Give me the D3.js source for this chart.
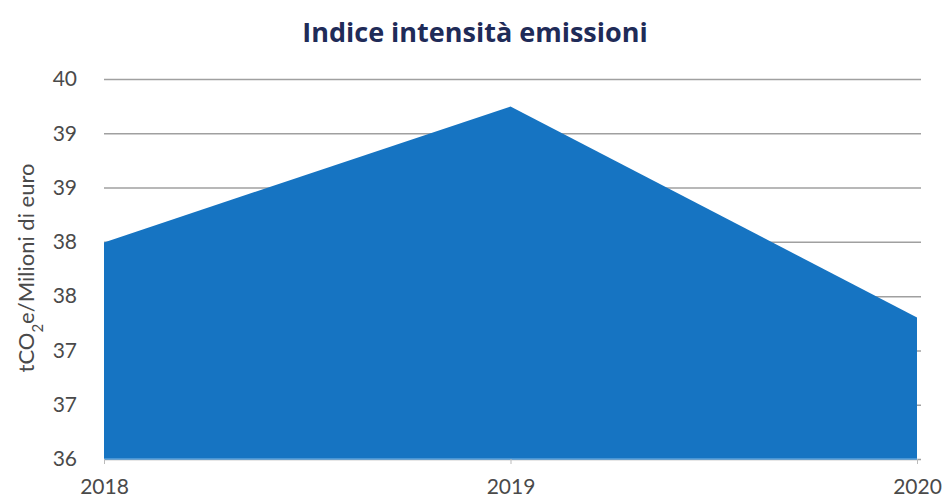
<!DOCTYPE html>
<html lang="it">

<head>
    <meta charset="utf-8">
    <script src="https://cdn.jsdelivr.net/npm/d3@7"></script>
    <style>
        body {
            margin: 0;
            background: #fff;
        }
        .grid line {
            stroke: #a0a0a0;
            stroke-width: 1.5;
        }
        .tick text {
            font-family: "Lato", sans-serif;
            font-size: 21px;
            fill: #4a4a4a;
        }
    </style>
</head>

<body>
    <div id="my_dataviz"></div>

    <script>
        // data
        const years = ["2018", "2019", "2020"];
        const values = [38.28, 39.71, 37.49];
        const yTickLabels = ["36", "37", "37", "38", "38", "39", "39", "40"];
        const yMin = 36, yMax = 40;

        const margin = { top: 79, right: 29, bottom: 41, left: 104 },
            width = 946 - margin.left - margin.right,
            height = 500 - margin.top - margin.bottom;

        const root = d3.select("#my_dataviz")
            .append("svg")
            .attr("width", 946)
            .attr("height", 500);

        const svg = root.append("g")
            .attr("transform", `translate(${margin.left},${margin.top})`);

        // title
        root.append("text")
            .attr("x", 475)
            .attr("y", 42)
            .attr("text-anchor", "middle")
            .style("font-family", "'Open Sans', sans-serif")
            .style("font-weight", "bold")
            .style("font-size", "27px")
            .style("fill", "#1f2b58")
            .text("Indice intensità emissioni");

        const x = d3.scalePoint()
            .domain(years)
            .range([0, width]);

        const y = d3.scaleLinear()
            .domain([yMin, yMax])
            .range([height, 0]);

        // tick positions: evenly spaced across the domain, one per label
        const tickStep = (yMax - yMin) / (yTickLabels.length - 1);
        const yTicks = yTickLabels.map((d, i) => yMin + i * tickStep);

        // gridlines
        svg.append("g")
            .attr("class", "grid")
            .call(d3.axisLeft(y).tickValues(yTicks).tickSize(-width - 4).tickFormat(""))
            .call(g => g.select(".domain").remove());

        // area
        const area = d3.area()
            .x((d, i) => x(years[i]))
            .y0(y(yMin))
            .y1(d => y(d));

        svg.append("path")
            .datum(values)
            .attr("d", area)
            .attr("fill", "#1674c2");

        // baseline
        svg.append("line")
            .attr("x1", 0)
            .attr("x2", width)
            .attr("y1", y(yMin))
            .attr("y2", y(yMin))
            .attr("stroke", "#5aa2dc")
            .attr("stroke-width", 1.5);

        // Y axis labels
        svg.append("g")
            .call(d3.axisLeft(y).tickValues(yTicks).tickSize(0).tickPadding(27)
                .tickFormat((d, i) => yTickLabels[i]))
            .call(g => g.select(".domain").remove());

        // X axis
        svg.append("g")
            .attr("transform", `translate(0, ${height})`)
            .call(d3.axisBottom(x).tickSize(5).tickPadding(15))
            .call(g => g.select(".domain").remove())
            .call(g => g.selectAll(".tick line").attr("stroke", "#bbb"));

        // Y axis title
        root.append("text")
            .attr("transform", "translate(34, 268) rotate(-90)")
            .attr("text-anchor", "middle")
            .style("font-family", "'Lato', sans-serif")
            .style("font-size", "22px")
            .style("fill", "#4a4a4a")
            .html("tCO<tspan baseline-shift='sub' font-size='15px'>2</tspan>e/Milioni di euro");
    </script>

</body>

</html>
